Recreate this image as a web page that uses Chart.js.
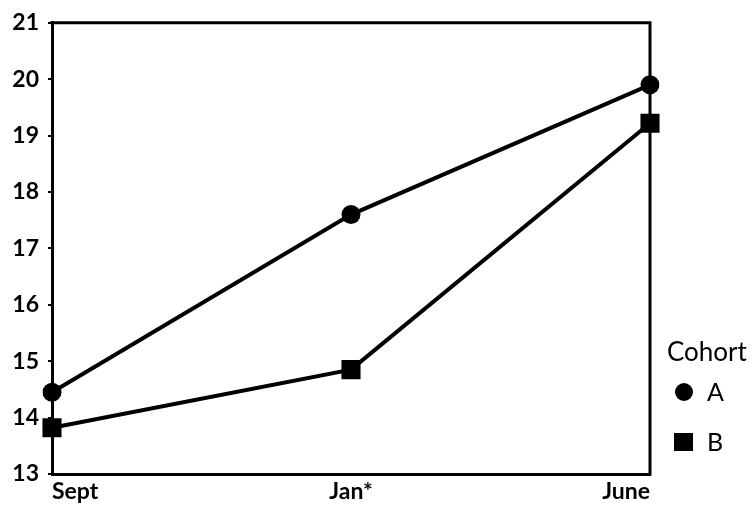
<!DOCTYPE html>
<html>
<head>
<meta charset="utf-8">
<script src="https://cdn.jsdelivr.net/npm/chart.js@4"></script>
<style>
html,body{margin:0;padding:0;background:#fff;}
#wrap{width:754px;height:505px;position:relative;}
</style>
</head>
<body>
<div id="wrap"><canvas id="c" width="754" height="505"></canvas></div>
<script>
const categories = ['Sept', 'Jan*', 'June'];
const cohortA = [14.45, 17.6, 19.9];
const cohortB = [13.82, 14.85, 19.22];
const yTicks = [13, 14, 15, 16, 17, 18, 19, 20, 21];
const legendTitle = 'Cohort';
const seriesNames = ['A', 'B'];

const FONT = 'Lato, "Open Sans", sans-serif';

const framePlugin = {
  id: 'frame',
  afterDatasetsDraw(chart) {
    const {ctx, chartArea: a} = chart;
    ctx.save();
    ctx.strokeStyle = '#000';
    ctx.lineWidth = 3;
    ctx.lineCap = 'square';
    ctx.beginPath();
    ctx.moveTo(a.left, a.top);
    ctx.lineTo(a.right, a.top);
    ctx.lineTo(a.right, a.bottom);
    ctx.stroke();
    ctx.restore();
  }
};

const legendPlugin = {
  id: 'customLegend',
  afterDraw(chart) {
    const {ctx} = chart;
    ctx.save();
    ctx.fillStyle = '#000';
    ctx.textBaseline = 'middle';
    ctx.textAlign = 'left';
    ctx.font = '26px ' + FONT;
    ctx.fillText(legendTitle, 667, 353);
    ctx.font = '25px ' + FONT;
    const rows = [392, 442];
    chart.data.datasets.forEach((ds, i) => {
      const y = rows[i];
      ctx.beginPath();
      if (ds.pointStyle === 'circle') {
        ctx.arc(684, y, 9, 0, Math.PI * 2);
      } else {
        ctx.rect(674, y - 9, 19, 18);
      }
      ctx.fill();
      ctx.fillText(ds.label, 707, y + 1);
    });
    ctx.restore();
  }
};

new Chart(document.getElementById('c'), {
  type: 'line',
  data: {
    labels: categories,
    datasets: [
      {label: seriesNames[0], data: cohortA, borderColor: '#000', backgroundColor: '#000', borderWidth: 4,
       pointStyle: 'circle', pointRadius: 9.5, pointBorderWidth: 0, tension: 0},
      {label: seriesNames[1], data: cohortB, borderColor: '#000', backgroundColor: '#000', borderWidth: 4,
       pointStyle: 'rect', pointRadius: 13.5, pointBorderWidth: 0, tension: 0}
    ]
  },
  options: {
    responsive: false,
    animation: false,
    devicePixelRatio: 1,
    layout: {padding: {left: 0, right: 104, top: 21, bottom: 0}},
    plugins: {legend: {display: false}, tooltip: {enabled: false}},
    scales: {
      x: {
        offset: false,
        grid: {display: false},
        border: {display: true, color: '#000', width: 3},
        ticks: {color: '#000', font: {family: FONT, size: 23, weight: 'bold'}, align: 'inner', padding: -4, maxRotation: 0},
        afterFit(s) { s.height = 31; }
      },
      y: {
        min: 13, max: 21,
        afterBuildTicks(s) { s.ticks = yTicks.map(v => ({value: v})); },
        grid: {display: true, drawOnChartArea: false, drawTicks: true, tickLength: 4, lineWidth: 2, color: '#000'},
        border: {display: true, color: '#000', width: 3},
        ticks: {color: '#000', font: {family: FONT, size: 23, weight: 'bold'}, padding: 9},
        afterFit(s) { s.width = 52; }
      }
    }
  },
  plugins: [framePlugin, legendPlugin]
});
</script>
</body>
</html>
